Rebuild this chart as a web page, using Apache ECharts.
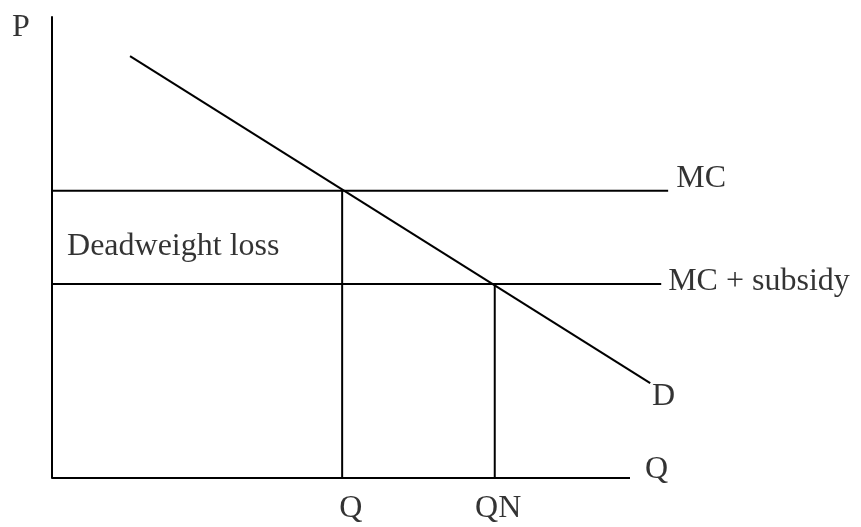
<!DOCTYPE html>
<html>
<head>
<meta charset="utf-8">
<script src="https://cdn.jsdelivr.net/npm/echarts@6/dist/echarts.min.js"></script>
<style>
html,body{margin:0;padding:0;background:#fff;}
#chart{width:861px;height:527px;}
</style>
</head>
<body>
<div id="chart"></div>
<script>
// Data (abstract units: quantity on x, price on y)
const qAxisLine = [[0, 0], [100, 0]];
const demandCurve = [[13.5, 91.5], [103.5, 20.6]];
const mcLine = [[0, 62.3], [106.6, 62.3]];
const mcSubsidyLine = [[0, 42.1], [105.4, 42.1]];
const qLine = [[50.2, 0], [50.2, 62.3]];
const qnLine = [[76.6, 0], [76.6, 42.1]];
const tickLabels = ['Q', 'QN'];
const tickLabelPos = [[51.7, -6.6], [77.2, -6.6]];
const textLabels = ['P', 'MC', 'MC + subsidy', 'D', 'Q', 'Deadweight loss'];
const textLabelPos = [[-6.9, 97.6], [108.0, 64.9], [106.6, 42.6], [103.8, 17.6], [102.6, 1.9], [2.6, 50.3]];

const FONT = '"Liberation Serif", "Times New Roman", serif';
const FS = 32;

function lineSeries(data) {
  return {
    type: 'line', data: data, symbol: 'none', clip: false, silent: true,
    lineStyle: { color: '#000', width: 2 }, animation: false
  };
}

const labelData = textLabels.map((t, i) => ({ value: textLabelPos[i], name: t }))
  .concat(tickLabels.map((t, i) => ({ value: tickLabelPos[i], name: t, label: { align: 'center' } })));

const option = {
  backgroundColor: '#fff',
  animation: false,
  grid: { left: 52, top: 17, width: 635.8, height: 461 },
  xAxis: {
    type: 'value', min: 0, max: 110,
    axisLine: { show: false },
    axisTick: { show: false }, axisLabel: { show: false }, splitLine: { show: false }
  },
  yAxis: {
    type: 'value', min: 0, max: 100,
    axisLine: { show: true, onZero: false, lineStyle: { color: '#000', width: 2 } },
    axisTick: { show: false }, axisLabel: { show: false }, splitLine: { show: false }
  },
  series: [
    lineSeries(qAxisLine),
    lineSeries(demandCurve),
    lineSeries(mcLine),
    lineSeries(mcSubsidyLine),
    lineSeries(qLine),
    lineSeries(qnLine),
    {
      type: 'scatter', data: labelData, symbolSize: 0, clip: false, silent: true,
      label: {
        show: true, position: 'inside', formatter: p => p.name,
        align: 'left', verticalAlign: 'middle',
        color: '#000', fontFamily: FONT, fontSize: FS
      }
    }
  ]
};

const chart = echarts.init(document.getElementById('chart'), null, { renderer: 'canvas' });
chart.setOption(option);
</script>
</body>
</html>
